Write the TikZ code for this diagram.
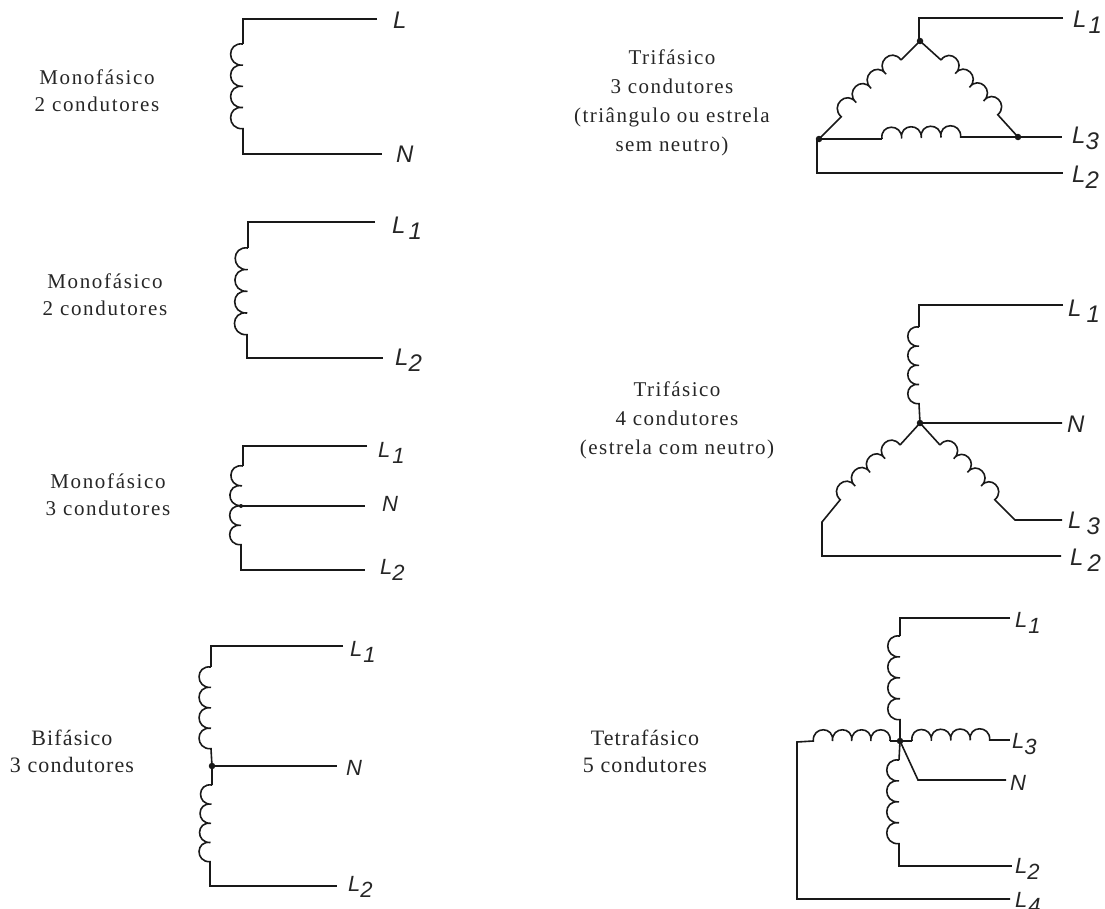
\documentclass[tikz,border=0pt]{standalone}
\usepackage{fontspec}
\setmainfont{Liberation Serif}
\newfontfamily\lblfont{Liberation Sans}
\newfontfamily\wideA[LetterSpace=8]{Liberation Serif}
\newfontfamily\wideB[LetterSpace=7]{Liberation Serif}
\newfontfamily\wideC[LetterSpace=5]{Liberation Serif}
\usetikzlibrary{decorations}
\newcommand{\coilN}{4}
\pgfdeclaredecoration{scallop}{s}{
  \state{s}[width={(\pgfdecoratedpathlength-0.3pt)/\coilN},next state=s]{
    \pgfmathsetlengthmacro{\lobeL}{(\pgfdecoratedpathlength-0.3pt)/\coilN}
    \pgfpathcurveto{\pgfpoint{-0.1*\lobeL}{0.78*\lobeL}}{\pgfpoint{1.05*\lobeL}{0.78*\lobeL}}{\pgfpoint{\lobeL}{0pt}}
  }
  \state{final}{\pgfpathlineto{\pgfpointdecoratedpathlast}}
}
\tikzset{
  wire/.style={line width=1.6pt,black!90,line join=miter},
  coilL/.style={wire,decorate,decoration={scallop}},
  coilR/.style={wire,decorate,decoration={name=scallop,mirror}},
  dot/.style={circle,fill=black!90,inner sep=0pt,minimum size=6.5pt},
  tag/.style={font=\lblfont\itshape\fontsize{24}{24}\selectfont,inner sep=0pt,anchor=base west,text=black!85},
  tagS/.style={tag,font=\lblfont\itshape\fontsize{22}{22}\selectfont},
  captA/.style={font=\wideA\fontsize{21}{27}\selectfont,align=center,inner sep=0pt,text=black!85},
  captB/.style={font=\wideB\fontsize{21}{29}\selectfont,align=center,inner sep=0pt,text=black!85},
  captC/.style={font=\wideC\fontsize{22}{27}\selectfont,align=center,inner sep=0pt,text=black!85}
}
\newcommand{\Lsub}[2][1]{L\hspace{#1pt}\raisebox{-6.5pt}{#2}}
\begin{document}
\begin{tikzpicture}[x=1pt,y=-1pt]
\useasboundingbox (0,0) rectangle (1105,908);
% captions
\node[captA] (c1) at (97,91) {Monofásico\\2 condutores};
\node[captA] (c2) at (105,295) {Monofásico\\2 condutores};
\node[captA] (c3) at (108,495) {Monofásico\\3 condutores};
\node[captC] (c4) at (72,751) {Bifásico\\3 condutores};
\node[captB] (c5) at (672,103) {Trifásico\\3 condutores\\(triângulo ou estrela\\sem neutro)};
\node[captB] (c6) at (677,420) {Trifásico\\4 condutores\\(estrela com neutro)};
\node[captC] (c7) at (645,751) {Tetrafásico\\5 condutores};

% --- Mono 1
\coordinate (a1) at (377,19); \coordinate (a2) at (243,19); \coordinate (a3) at (243,44);
\coordinate (a4) at (243,129); \coordinate (a5) at (243,154); \coordinate (a6) at (382,154);
\draw[wire] (a1) -- (a2) -- (a3);
\draw[coilR] (a3) -- (a4);
\draw[wire] (a4) -- (a5) -- (a6);
\node[tag] (aL) at (393,28) {L};
\node[tag] (aN) at (396,162) {N};

% --- Mono 2
\coordinate (b1) at (375,222); \coordinate (b2) at (248,222); \coordinate (b3) at (248,248);
\coordinate (b4) at (247,335); \coordinate (b5) at (247,358); \coordinate (b6) at (383,358);
\draw[wire] (b1) -- (b2) -- (b3);
\draw[coilR] (b3) -- (b4);
\draw[wire] (b4) -- (b5) -- (b6);
\node[tag] (bL) at (392,233) {\Lsub[3]{1}};
\node[tag] (bN) at (395,365) {\Lsub[0]{2}};

% --- Mono 3
\coordinate (d1) at (367,446); \coordinate (d2) at (243,446); \coordinate (d3) at (243,466);
\coordinate (d4) at (241,506); \coordinate (d5) at (241,545); \coordinate (d6) at (241,570);
\coordinate (d7) at (365,570); \coordinate (d8) at (365,506);
\draw[wire] (d1) -- (d2) -- (d3);
\renewcommand{\coilN}{2}
\draw[coilR] (d3) -- (d4);
\draw[coilR] (d4) -- (d5);
\renewcommand{\coilN}{4}
\draw[wire] (d5) -- (d6) -- (d7);
\draw[wire] (d4) -- (d8);
\node[dot,minimum size=4pt] (dd) at (d4) {};
\node[tagS] (dL) at (378,457) {\Lsub[2]{1}};
\node[tagS] (dN) at (382,511) {N};
\node[tagS] (dM) at (380,574) {\Lsub[0]{2}};

% --- Bifasico
\coordinate (e1) at (343,646); \coordinate (e2) at (211,646); \coordinate (e3) at (211,667);
\coordinate (e4) at (211,749); \coordinate (e5) at (212,766); \coordinate (e6) at (337,766);
\coordinate (e7) at (212,785); \coordinate (e8) at (210,862); \coordinate (e9) at (210,886);
\coordinate (e10) at (337,886);
\draw[wire] (e1) -- (e2) -- (e3);
\draw[coilR] (e3) -- (e4);
\draw[wire] (e4) -- (e5) -- (e7);
\draw[coilR] (e7) -- (e8);
\draw[wire] (e8) -- (e9) -- (e10);
\draw[wire] (e5) -- (e6);
\node[dot] (ee) at (e5) {};
\node[tagS] (eL) at (350,656) {\Lsub[1]{1}};
\node[tagS] (eN) at (346,775) {N};
\node[tagS] (eM) at (348,891) {\Lsub[0]{2}};

% --- Triangle
\coordinate (f1) at (1063,18); \coordinate (f2) at (919,18); \coordinate (f3) at (920,41);
\coordinate (f4) at (901,60); \coordinate (f5) at (841,117); \coordinate (f6) at (819,139);
\coordinate (f7) at (941,60); \coordinate (f8) at (998,115); \coordinate (f9) at (1018,137);
\coordinate (f10) at (882,139); \coordinate (f11) at (961,137); \coordinate (f12) at (1062,137);
\coordinate (f13) at (817,173); \coordinate (f14) at (1063,173); \coordinate (f15) at (817,139);
\draw[wire] (f1) -- (f2) -- (f2|-f3);
\draw[wire] (f3) -- (f4);
\draw[coilR] (f4) -- (f5);
\draw[wire] (f5) -- (f6);
\draw[wire] (f3) -- (f7);
\draw[coilL] (f7) -- (f8);
\draw[wire] (f8) -- (f9);
\draw[wire] (f6) -- (f10);
\draw[coilL] (f10) -- (f11);
\draw[wire] (f11) -- (f9) -- (f12);
\draw[wire] (f15) -- (f13) -- (f14);
\node[dot] (f3d) at (f3) {};
\node[dot] (f6d) at (f6) {};
\node[dot] (f9d) at (f9) {};
\node[tag] (fL) at (1073,27) {\Lsub[2]{1}};
\node[tag] (fM) at (1072,143) {\Lsub[0]{3}};
\node[tag] (fN) at (1072,182) {\Lsub[0]{2}};

% --- Star
\coordinate (g1) at (1063,305); \coordinate (g2) at (919,305); \coordinate (g3) at (919,327);
\coordinate (g4) at (919,404); \coordinate (g5) at (920,423); \coordinate (g6) at (1062,423);
\coordinate (g7) at (900,445); \coordinate (g8) at (840,500); \coordinate (g9) at (822,522);
\coordinate (g10) at (822,556); \coordinate (g11) at (1061,556);
\coordinate (g12) at (940,445); \coordinate (g13) at (995,500); \coordinate (g14) at (1015,520);
\coordinate (g15) at (1062,520);
\draw[wire] (g1) -- (g2) -- (g3);
\draw[coilR] (g3) -- (g4);
\draw[wire] (g4) -- (g5) -- (g6);
\draw[wire] (g5) -- (g7);
\draw[coilR] (g7) -- (g8);
\draw[wire] (g8) -- (g9) -- (g10) -- (g11);
\draw[wire] (g5) -- (g12);
\draw[coilL] (g12) -- (g13);
\draw[wire] (g13) -- (g14) -- (g15);
\node[dot] (gd) at (g5) {};
\node[tag] (gL) at (1068,316) {\Lsub[5]{1}};
\node[tag] (gN) at (1067,432) {N};
\node[tag] (gM) at (1068,528) {\Lsub[5]{3}};
\node[tag] (gP) at (1070,565) {\Lsub[4]{2}};

% --- Tetra
\coordinate (h1) at (1010,618); \coordinate (h2) at (900,618); \coordinate (h3) at (900,636);
\coordinate (h4) at (900,720); \coordinate (h5) at (900,741); \coordinate (h6) at (912,741);
\coordinate (h7) at (990,740); \coordinate (h8) at (1010,740); \coordinate (h9) at (890,741);
\coordinate (h10) at (813,741); \coordinate (h11) at (797,742); \coordinate (h12) at (797,899);
\coordinate (h13) at (1010,899); \coordinate (h14) at (899,760); \coordinate (h15) at (899,844);
\coordinate (h16) at (899,866); \coordinate (h17) at (1012,866); \coordinate (h18) at (918,780);
\coordinate (h19) at (1006,780);
\draw[wire] (h1) -- (h2) -- (h3);
\draw[coilR] (h3) -- (h4);
\draw[wire] (h4) -- (h5) -- (h6);
\draw[coilL] (h6) -- (h7);
\draw[wire] (h7) -- (h8);
\draw[wire] (h5) -- (h9);
\draw[coilR] (h9) -- (h10);
\draw[wire] (h10) -- (h11) -- (h12) -- (h13);
\draw[wire] (h5) -- (h14);
\draw[coilR] (h14) -- (h15);
\draw[wire] (h15) -- (h16) -- (h17);
\draw[wire] (h5) -- (h18) -- (h19);
\node[dot] (hd) at (h5) {};
\node[tagS] (hL) at (1015,627) {\Lsub[1]{1}};
\node[tagS] (hM) at (1012,748) {\Lsub[0]{3}};
\node[tagS] (hN) at (1010,790) {N};
\node[tagS] (hP) at (1015,873) {\Lsub[0]{2}};
\node[tagS] (hQ) at (1015,907) {\Lsub[1]{4}};
\end{tikzpicture}
\end{document}
